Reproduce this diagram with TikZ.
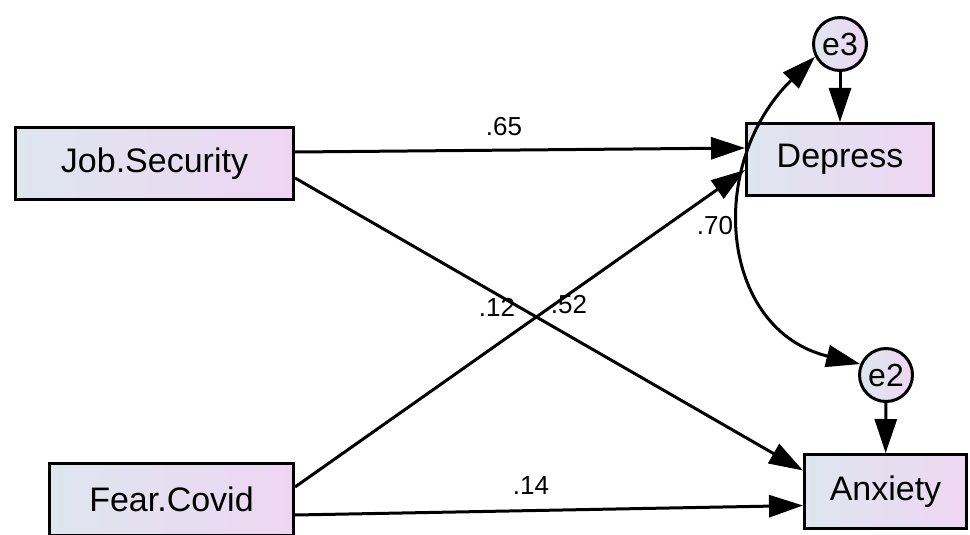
\documentclass[tikz,border=0pt]{standalone}
\usepackage{fontspec}
\setmainfont{Liberation Sans}
\usetikzlibrary{arrows.meta}
\definecolor{boxleft}{RGB}{222,230,238}
\definecolor{boxright}{RGB}{238,214,242}
\tikzstyle{var} = [draw, line width=3pt, left color=boxleft, right color=boxright, minimum height=72pt, inner sep=0pt, font=\fontsize{34}{40}\selectfont]
\tikzstyle{err} = [circle, draw, line width=3pt, left color=boxleft, right color=boxright, minimum size=53pt, inner sep=0pt, font=\fontsize{32}{38}\selectfont]
\tikzstyle{reg} = [line width=3pt, -{Triangle[length=34pt,width=22pt]}]
\tikzstyle{cov} = [line width=3pt, {Triangle[length=34pt,width=22pt]}-{Triangle[length=34pt,width=22pt]}]
\tikzstyle{coef} = [inner sep=0pt, font=\fontsize{26}{31}\selectfont]

\begin{document}
\begin{tikzpicture}[x=1pt,y=-1pt]
    \useasboundingbox (0,0) rectangle (970,535);
    % observed variables
    \node[var, minimum width=278pt] (js) at (154.5,163.5) {Job.Security};
    \node[var, minimum width=244pt] (fc) at (171.5,499.5) {Fear.Covid};
    \node[var, minimum width=187pt] (dep) at (840,159.5) {Depress};
    \node[var, minimum width=162pt, minimum height=74pt] (anx) at (885.5,491.5) {Anxiety};
    % residuals
    \node[err] (e3) at (840,44) {e3};
    \node[err] (e2) at (886,375) {e2};
    % paths
    \draw[reg] ([yshift=11.5pt]js.east) -- ([yshift=11.5pt]dep.west);
    \draw[reg] ([yshift=-14.5pt]js.east) -- ([yshift=21pt]anx.west);
    \draw[reg] ([yshift=12.5pt]fc.east) -- ([yshift=-10.5pt]dep.west);
    \draw[reg] ([yshift=-15.5pt]fc.east) -- ([yshift=-14pt]anx.west);
    \draw[reg] (e3) -- (dep);
    \draw[reg] (e2) -- (anx);
    \draw[cov] (e3.207) .. controls (705,165) and (720,330) .. (e2.157);
    % estimates
    \node[coef] (c65) at (504,127) {.65};
    \node[coef] (c12) at (497,307) {.12};
    \node[coef] (c52) at (569,305) {.52};
    \node[coef] (c14) at (531,486) {.14};
    \node[coef] (c70) at (715,226) {.70};
\end{tikzpicture}
\end{document}
